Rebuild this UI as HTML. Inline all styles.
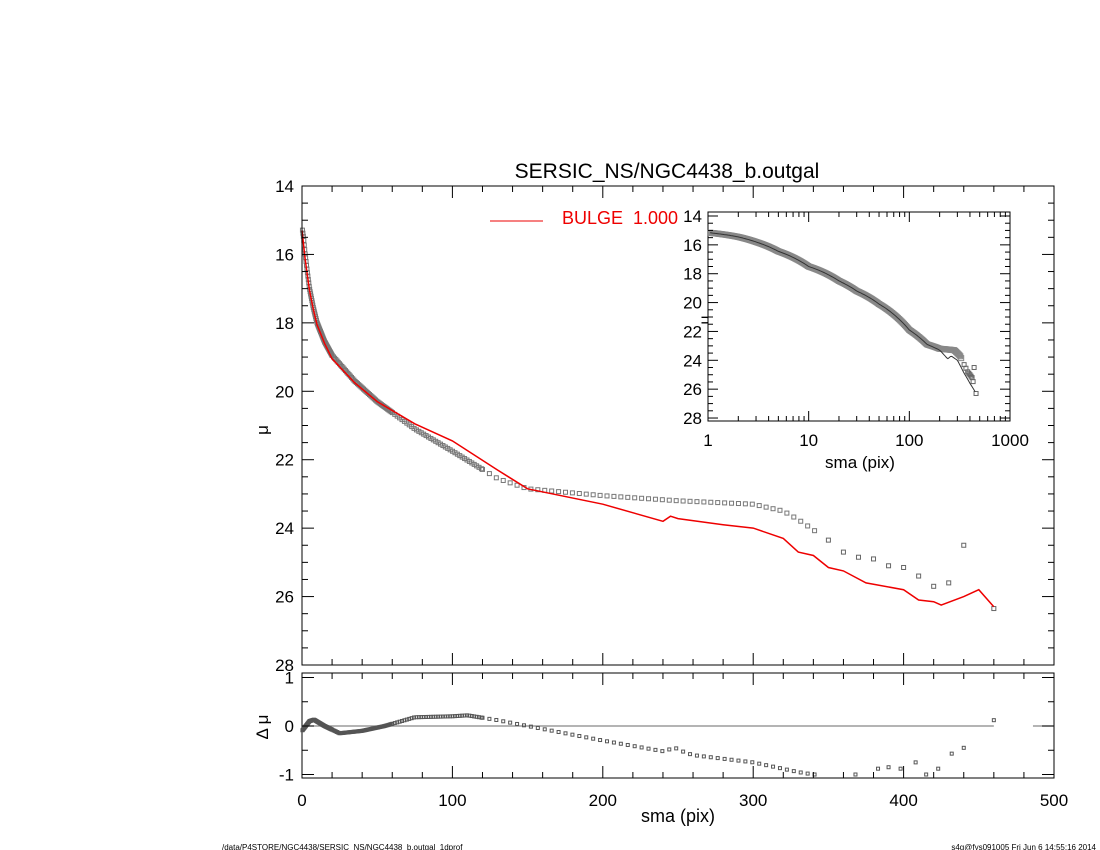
<!DOCTYPE html><html><head><meta charset="utf-8"><style>body{margin:0;background:#fff}svg{display:block}text{font-family:"Liberation Sans",sans-serif}</style></head><body>
<svg id="s" width="1100" height="850" xmlns="http://www.w3.org/2000/svg">
<rect width="1100" height="850" fill="#fff"/>
<text x="667" y="178" font-size="21" text-anchor="middle">SERSIC_NS/NGC4438_b.outgal</text>
<line x1="490" y1="221" x2="543" y2="221" stroke="#e00" stroke-width="1"/>
<text x="562" y="224" font-size="18" fill="#e00">BULGE&#160;&#160;1.000</text>
<text x="268" y="430" font-size="17" transform="rotate(-90 268 430)" text-anchor="middle">μ</text>
<text x="268" y="727" font-size="17" transform="rotate(-90 268 727)" text-anchor="middle">Δ μ</text>
<text x="678" y="822" font-size="18" text-anchor="middle">sma (pix)</text>
<text x="860" y="468" font-size="17" text-anchor="middle">sma (pix)</text>
<text x="710" y="320" font-size="16" transform="rotate(-90 710 320)" text-anchor="middle">μ</text>
<text x="222" y="850" font-size="8">/data/P4STORE/NGC4438/SERSIC_NS/NGC4438_b.outgal_1dprof</text>
<text x="1096" y="850" font-size="8" text-anchor="end">s4g@fys091005  Fri Jun  6 14:55:16 2014</text>
<g id="g"></g>
</svg>
<script>
var g=document.getElementById('g'),o='';
function L(a,b,c,d,col,w){o+='<line x1="'+a+'" y1="'+b+'" x2="'+c+'" y2="'+d+'" stroke="'+(col||'#000')+'" stroke-width="'+(w||1)+'"/>';}
function T(x,y,t,s,a){o+='<text x="'+x+'" y="'+y+'" font-size="'+s+'" text-anchor="'+(a||'middle')+'">'+t+'</text>';}
function interp(P,x){if(x<=P[0][0])return P[0][1];for(var i=0;i<P.length-1;i++){if(x<=P[i+1][0]){var t=(x-P[i][0])/(P[i+1][0]-P[i][0]);return P[i][1]+t*(P[i+1][1]-P[i][1]);}}return P[P.length-1][1];}
var X0=302,X1=1054,Y0=186,Y1=665;
function mx(s){return X0+s*(X1-X0)/500} function my(m){return Y0+(m-14)*(Y1-Y0)/14}
var obs=[[0,15.2],[1,15.5],[2,15.95],[3.5,16.5],[5,17],[7.5,17.55],[10,18],[15,18.55],[20,18.95],[35,19.7],[50,20.3],[75,21.1],[100,21.75],[130,22.55],[150,22.85],[200,23.05],[250,23.2],[300,23.3],[320,23.5],[330,23.75],[340,24.05],[350,24.35],[360,24.7],[370,24.85],[380,24.9],[390,25.1],[400,25.15],[410,25.4],[420,25.7],[430,25.6],[440,24.5],[460,26.35]];
var mod=[[0,15.3],[1,15.7],[2,16.1],[3.5,16.6],[5,17.05],[7.5,17.6],[10,18.05],[15,18.6],[20,19.05],[35,19.75],[50,20.3],[75,20.95],[100,21.45],[130,22.3],[150,22.85],[200,23.3],[240,23.8],[245,23.65],[250,23.72],[280,23.9],[300,24.0],[320,24.3],[330,24.7],[340,24.8],[350,25.15],[360,25.25],[375,25.6],[400,25.8],[410,26.1],[420,26.15],[425,26.25],[440,26.0],[450,25.8],[460,26.3]];
var res=[[0,-0.1],[5,0.1],[8,0.13],[15,0.0],[25,-0.15],[40,-0.1],[55,0.0],[75,0.18],[100,0.2],[110,0.22],[130,0.12],[150,0.0],[200,-0.3],[240,-0.52],[248,-0.45],[255,-0.55],[260,-0.6],[300,-0.75],[330,-0.95],[340,-1.0]];
var sm=[];for(var s=0.3;s<120;s+=(s<20?0.3:s<60?0.8:1.6))sm.push(s);for(var s=120;s<=345;s+=4.6)sm.push(s);
function sq(x,y,r,c){o+='<rect x="'+(x-r)+'" y="'+(y-r)+'" width="'+(2*r)+'" height="'+(2*r)+'" fill="none" stroke="'+c+'" stroke-width="1"/>';}
sm.forEach(function(s){sq(mx(s),my(interp(obs,s)),2,'#777')});
[350,360,370,380,390,400,410,420,430,440,460].forEach(function(s){var m=interp(obs,s);if(s==440)m=24.5;sq(mx(s),my(m),2,'#666')});
var p='';for(var i=0;i<mod.length;i++)p+=(i?'L':'M')+mx(mod[i][0]).toFixed(1)+' '+my(mod[i][1]).toFixed(1);
o+='<path d="'+p+'" fill="none" stroke="#e00" stroke-width="1.5"/>';
o+='<rect x="'+X0+'" y="'+Y0+'" width="'+(X1-X0)+'" height="'+(Y1-Y0)+'" fill="none" stroke="#000"/>';
for(var v=0;v<=500;v+=20){var x=mx(v),l=v%100?6:12;L(x,Y0,x,Y0+l);L(x,Y1,x,Y1-l);}
for(var v=14;v<=28;v+=0.5){var y=my(v),l=v%2?6:12;L(X0,y,X0+l,y);L(X1,y,X1-l,y);if(v%2==0)T(X0-8,y+6,v,17,'end');}
var R0=673,R1=778;function ry(d){return 726-d*48.5}
o+='<rect x="'+X0+'" y="'+R0+'" width="'+(X1-X0)+'" height="'+(R1-R0)+'" fill="none" stroke="#000"/>';
L(X0,726,mx(460),726,'#888',1.2);L(mx(486),726,X1,726,'#888',1.2);
sm.forEach(function(s){sq(mx(s),ry(interp(res,s)),1.5,'#555')});
[[383,-0.88],[390,-0.85],[398,-0.88],[408,-0.75],[415,-1.0],[423,-0.88],[432,-0.57],[440,-0.45],[460,0.12],[368,-1.0]].forEach(function(a){sq(mx(a[0]),ry(a[1]),1.5,'#555')});
for(var v=0;v<=500;v+=20){var x=mx(v),l=v%100?6:12;L(x,R0,x,R0+l);L(x,R1,x,R1-l);if(v%100==0)T(x,806,v,17);}
for(var v=-1;v<=1;v+=0.5){var y=ry(v),l=v%1?6:12;L(X0,y,X0+l,y);L(X1,y,X1-l,y);if(v%1==0)T(X0-8,y+6,v,17,'end');}
// inset
var IX0=708,IX1=1010,IY0=212,IY1=421;function ix(s){return IX0+Math.log10(s)*(IX1-IX0)/3} function iy(m){return 216+(m-14)*14.43}
var iobs=[[1,15.15],[2,15.45],[3,15.8],[5,16.45],[10,17.5],[20,18.5],[30,19.2],[50,20.1],[100,21.9],[150,22.9],[200,23.2],[280,23.3],[320,23.7],[350,24.3],[380,24.8],[420,25.2],[460,26.3]];
var imod=[[1,15.15],[2,15.45],[3,15.8],[5,16.45],[10,17.5],[20,18.5],[30,19.2],[50,20.1],[100,21.9],[150,22.9],[200,23.3],[240,23.9],[260,23.7],[300,24.0],[350,24.9],[400,25.6],[460,26.3]];
o+='<rect x="'+IX0+'" y="'+IY0+'" width="'+(IX1-IX0)+'" height="'+(IY1-IY0)+'" fill="#fff" stroke="#000"/>';
for(var s=1.05;s<=330;s*=1.02)sq(ix(s),iy(interp(iobs,s)),2.5,'#888');
[350,365,380,390,400,410,420,430,440,460].forEach(function(s){var m=interp(iobs,s);if(s==440)m=24.5;sq(ix(s),iy(m),2,'#666')});
var q='';for(var s=1.05;s<=460;s*=1.03)q+=(q?'L':'M')+ix(s).toFixed(1)+' '+iy(interp(imod,s)).toFixed(1);
o+='<path d="'+q+'" fill="none" stroke="#333" stroke-width="1"/>';
for(var d=1;d<=1000;d*=10){for(var k=1;k<10;k++){var v=d*k;if(v>1000)break;var x=ix(v),l=k==1?10:5;L(x,IY0,x,IY0+l);L(x,IY1,x,IY1-l);}T(ix(d),446,d,17);}
for(var v=14;v<=28;v+=0.5){var y=iy(v),l=v%2?5:10;L(IX0,y,IX0+l,y);L(IX1,y,IX1-l,y);if(v%2==0)T(IX0-6,y+6,v,17,'end');}
g.innerHTML=o;
</script>
</body></html>
